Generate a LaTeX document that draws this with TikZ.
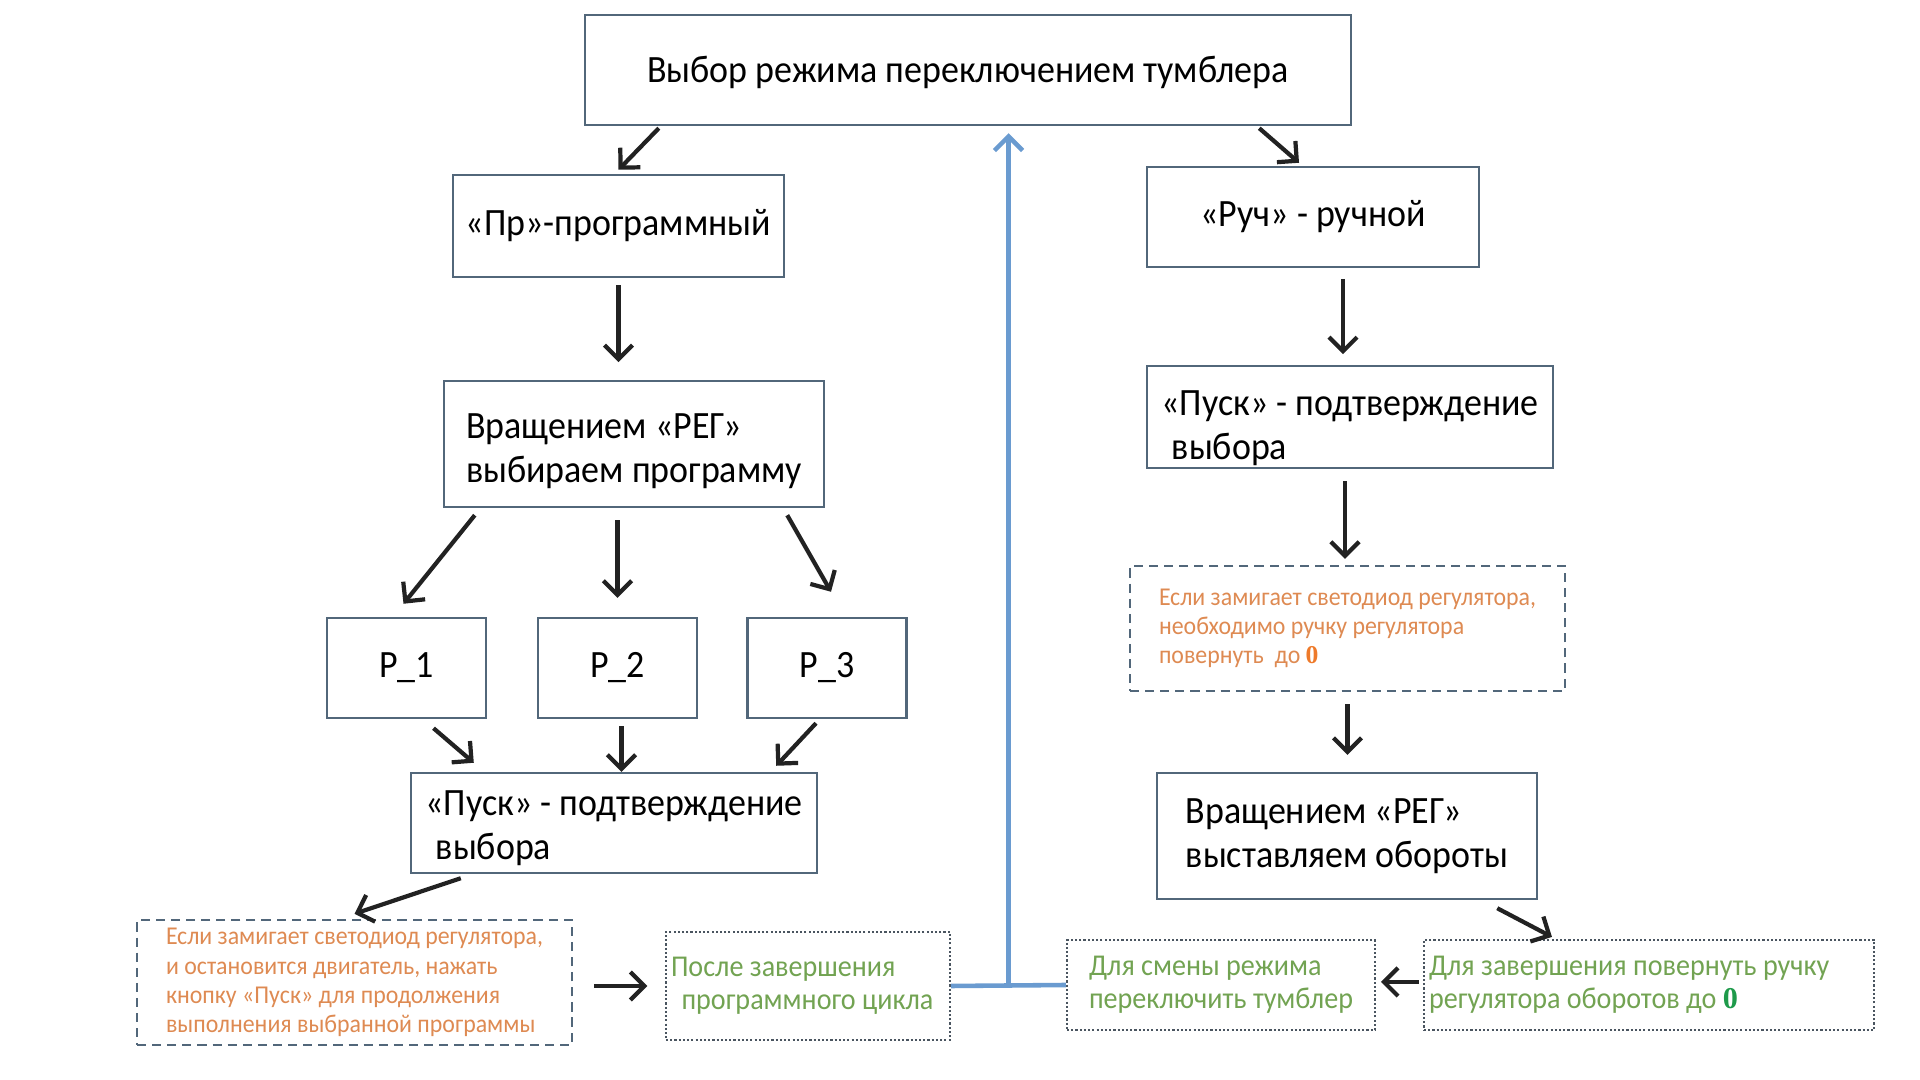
\documentclass[tikz,border=0pt]{standalone}
\usepackage{fontspec}
\setmainfont{Carlito}[FakeStretch=0.93]
\newfontfamily\zerofont{Liberation Serif}
\usepackage{tikz}
\usetikzlibrary{arrows.meta, positioning, calc}
\usepackage{xcolor}
\definecolor{boxline}{HTML}{52677A}
\definecolor{dotgray}{HTML}{4A5560}
\definecolor{warnorange}{HTML}{DE8A52}
\definecolor{zeroorange}{HTML}{EE7A2A}
\definecolor{notegreen}{HTML}{72A352}
\definecolor{zerogreen}{HTML}{1E9A4A}
\definecolor{loopblue}{HTML}{6A9BD0}
\definecolor{arrblack}{HTML}{222222}

\begin{document}
\begin{tikzpicture}[
    blk/.style={draw=boxline, line width=0.7pt, align=flush left, inner sep=2pt,
                font=\fontsize{11}{12.5}\selectfont},
    warn/.style={draw=boxline, line width=0.7pt, dash pattern=on 2.6pt off 1.7pt,
                align=flush left, inner sep=2pt, text=warnorange,
                font=\fontsize{7.3}{8.3}\selectfont},
    note/.style={draw=dotgray, line width=0.6pt, dash pattern=on 0.6pt off 0.6pt,
                align=flush left, inner sep=2pt, text=notegreen,
                font=\fontsize{8.6}{9.4}\selectfont},
    arr/.style={-{Straight Barb[length=4pt, width=8pt]}, line width=1.2pt, arrblack},
    loopln/.style={line width=1.3pt, loopblue},
  ]
    \useasboundingbox (0,0) rectangle (19.2,10.8);
    % mode switch
    \node[blk, minimum width=7.66cm, minimum height=1.10cm] (top) at (9.68,10.10)
      {\rule{0pt}{9pt}Выбор режима переключением тумблера};
    % programmed branch
    \node[blk, minimum width=3.31cm, minimum height=1.02cm] (pr) at (6.185,8.54)
      {«Пр»-программный};
    \node[blk, minimum width=3.80cm, minimum height=1.26cm] (vrL) at (6.34,6.36)
      {\rule{0pt}{11pt}Вращением «РЕГ»\\выбираем программу};
    \node[blk, minimum width=1.59cm, minimum height=1.00cm] (p1) at (4.065,4.12) {P\_1};
    \node[blk, minimum width=1.59cm, minimum height=1.00cm] (p2) at (6.175,4.12) {P\_2};
    \node[blk, minimum width=1.59cm, minimum height=1.00cm] (p3) at (8.27,4.12) {P\_3};
    \node[blk, minimum width=4.06cm, minimum height=1.00cm] (puskL) at (6.14,2.57)
      {\rule{0pt}{10pt}«Пуск» - подтверждение\\\hspace*{3pt}выбора};
    \node[warn, minimum width=4.35cm, minimum height=1.25cm] (warnL) at (3.545,0.975)
      {Если замигает светодиод регулятора,\\и остановится двигатель, нажать\\
       кнопку «Пуск» для продолжения\\выполнения выбранной программы};
    \node[note, text width=2.74cm, inner xsep=0.05cm, minimum height=1.08cm] (after) at (8.08,0.94)
      {После завершения\\\hspace*{3pt}программного цикла};
    % manual branch
    \node[blk, minimum width=3.32cm, minimum height=1.00cm] (ruch) at (13.13,8.63)
      {«Руч» - ручной};
    \node[blk, inner ysep=0pt, minimum width=4.06cm, minimum height=1.02cm] (puskR) at (13.50,6.63)
      {\rule{0pt}{13.6pt}«Пуск» - подтверждение\\\hspace*{3pt}выбора};
    \node[warn, minimum width=4.35cm, minimum height=1.25cm] (warnR) at (13.475,4.515)
      {Если замигает светодиод регулятора,\\необходимо ручку регулятора\\
       повернуть\ \ до {\zerofont\bfseries\color{zeroorange}0}};
    \node[blk, minimum width=3.80cm, minimum height=1.26cm] (vrR) at (13.47,2.44)
      {Вращением «РЕГ»\\выставляем обороты};
    \node[note, text width=4.40cm, inner xsep=0.05cm, minimum height=0.90cm] (finish) at (16.49,0.95)
      {Для завершения повернуть ручку\\регулятора оборотов до {\zerofont\bfseries\color{zerogreen}0}};
    \node[note, minimum width=3.08cm, minimum height=0.90cm] (change) at (12.21,0.95)
      {Для смены режима\\переключить тумблер};

    % arrows
    \draw[arr] ([xshift=0.75cm,yshift=-0.02cm]top.south west) -- ([yshift=0.04cm]pr.north);
    \draw[arr] ([xshift=-0.93cm,yshift=-0.02cm]top.south east) -- ([xshift=-0.14cm,yshift=0.03cm]ruch.north);
    \draw[arr, shorten <=2pt, shorten >=5pt] (pr.south) -- (pr.south |- vrL.north);
    \draw[arr, shorten <=3pt, shorten >=3pt] ([xshift=0.3cm]ruch.south) -- ([xshift=0.3cm]ruch.south |- puskR.north);
    \draw[arr] ([xshift=0.32cm,yshift=-0.07cm]vrL.south west) -- ([xshift=-0.03cm,yshift=0.13cm]p1.north);
    \draw[arr, shorten <=3.4pt, shorten >=5.4pt] (p2.north |- vrL.south) -- (p2.north);
    \draw[arr] ([xshift=-0.38cm,yshift=-0.07cm]vrL.south east) -- ([xshift=0.04cm,yshift=0.25cm]p3.north);
    \draw[arr] ([xshift=0.27cm,yshift=-0.09cm]p1.south) -- ([xshift=0.64cm,yshift=0.09cm]puskL.north west);
    \draw[arr, shorten <=2pt] ([xshift=0.04cm]p2.south) -- ([xshift=0.04cm]p2.south |- puskL.north);
    \draw[arr] ([xshift=-0.11cm,yshift=-0.04cm]p3.south) -- ([xshift=-0.42cm,yshift=0.06cm]puskL.north east);
    \draw[arr] ([xshift=0.51cm,yshift=-0.04cm]puskL.south west) -- ([yshift=0.05cm]warnL.north);
    \draw[arr, shorten <=6pt, shorten >=5pt] (warnL.east |- after.west) -- (after.west);
    \draw[arr, shorten <=3.4pt, shorten >=1.7pt] ([xshift=-0.05cm]puskR.south) -- ([xshift=-0.05cm]puskR.south |- warnR.north);
    \draw[arr, shorten <=3.4pt, shorten >=4.8pt] (warnR.south) -- (warnR.south |- vrR.north);
    \draw[arr] ([xshift=-0.41cm,yshift=-0.08cm]vrR.south east) -- ([xshift=1.29cm,yshift=0.02cm]finish.north west);
    \draw[arr, shorten <=1.2pt, shorten >=1.4pt] ([yshift=0.03cm]finish.west) -- ([yshift=0.03cm]change.east);

    % return loop
    \draw[loopln] (after.east) -- (change.west);
    \coordinate (jn) at ($(after.east)!0.5!(change.west)$);
    \draw[loopln, -{Straight Barb[length=4pt, width=8pt]}, shorten >=2pt] (jn) -- (jn |- top.south);
\end{tikzpicture}
\end{document}
